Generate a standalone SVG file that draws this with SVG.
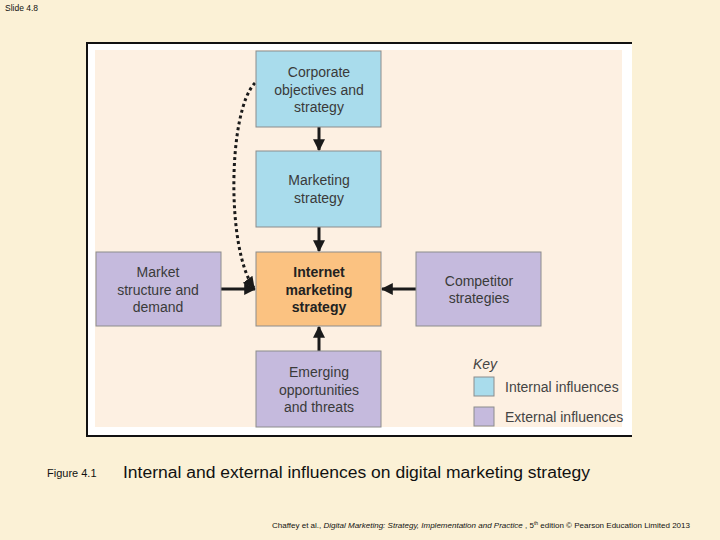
<svg xmlns="http://www.w3.org/2000/svg" width="720" height="540" viewBox="0 0 720 540">
<defs>
<style>
.box{stroke:#8c8c8c;stroke-width:1}
.int{fill:#a9dcec}
.ext{fill:#c5badd}
.core{fill:#fbc281}
.t{font-family:"Liberation Sans",Arial,sans-serif;font-size:14px;fill:#3a3a3a;text-anchor:middle}
.b{font-weight:bold;fill:#222}
.k{font-family:"Liberation Sans",Arial,sans-serif;font-size:14px;fill:#444}
.conn{stroke:#1a1a1a;stroke-width:3;fill:none}
</style>
<marker id="ah" viewBox="0 0 10 10" refX="9" refY="5" markerWidth="4" markerHeight="4" orient="auto" markerUnits="strokeWidth">
<path d="M0,0 L10,5 L0,10 Z" fill="#1a1a1a"/>
</marker>
</defs>
<rect width="720" height="540" fill="#fbf1d6"/>
<text x="5" y="11" font-family="Liberation Sans,Arial,sans-serif" font-size="8.5" fill="#111">Slide 4.8</text>
<rect x="87" y="43" width="545" height="393" fill="#ffffff"/>
<rect x="95" y="50" width="527" height="377" fill="#fdf0e2"/>
<path d="M632,43 H87 V436 H632" fill="none" stroke="#111" stroke-width="2"/>

<g id="connectors">
<line class="conn" x1="319" y1="127" x2="319" y2="150" marker-end="url(#ah)"/>
<line class="conn" x1="319" y1="227" x2="319" y2="251" marker-end="url(#ah)"/>
<line class="conn" x1="221" y1="289" x2="255" y2="289" marker-end="url(#ah)"/>
<line class="conn" x1="416" y1="289" x2="382" y2="289" marker-end="url(#ah)"/>
<line class="conn" x1="319" y1="351" x2="319" y2="327" marker-end="url(#ah)"/>
<path class="conn" d="M255,83 C228,110 226,250 254,288" stroke-dasharray="3 3" marker-end="url(#ah)"/>
</g>

<g id="corporate">
<rect class="box int" x="256" y="51" width="125" height="76"/>
<text class="t" x="319" y="77">Corporate</text>
<text class="t" x="319" y="95">objectives and</text>
<text class="t" x="319" y="112">strategy</text>
</g>
<g id="marketing">
<rect class="box int" x="256" y="151" width="125" height="76"/>
<text class="t" x="319" y="185">Marketing</text>
<text class="t" x="319" y="203">strategy</text>
</g>
<g id="internet">
<rect class="box core" x="256" y="252" width="125" height="74"/>
<text class="t b" x="319" y="277">Internet</text>
<text class="t b" x="319" y="295">marketing</text>
<text class="t b" x="319" y="312">strategy</text>
</g>
<g id="market">
<rect class="box ext" x="96" y="252" width="125" height="74"/>
<text class="t" x="158" y="277">Market</text>
<text class="t" x="158" y="295">structure and</text>
<text class="t" x="158" y="312">demand</text>
</g>
<g id="competitor">
<rect class="box ext" x="416" y="252" width="125" height="74"/>
<text class="t" x="479" y="286">Competitor</text>
<text class="t" x="479" y="303">strategies</text>
</g>
<g id="emerging">
<rect class="box ext" x="256" y="351" width="125" height="76"/>
<text class="t" x="319" y="377">Emerging</text>
<text class="t" x="319" y="395">opportunities</text>
<text class="t" x="319" y="412">and threats</text>
</g>
<g id="key">
<text class="k" x="473" y="369" font-style="italic">Key</text>
<rect class="box int" x="474" y="377" width="20" height="19"/>
<text class="k" x="505" y="392">Internal influences</text>
<rect class="box ext" x="474" y="407" width="20" height="19"/>
<text class="k" x="505" y="422">External influences</text>
</g>

<text x="47" y="477" font-family="Liberation Sans,Arial,sans-serif" font-size="11" fill="#111">Figure 4.1</text>
<text x="123" y="478" font-family="Liberation Sans,Arial,sans-serif" font-size="17.3" fill="#111" textLength="467" lengthAdjust="spacingAndGlyphs">Internal and external influences on digital marketing strategy</text>
<text x="272" y="528" font-family="Liberation Sans,Arial,sans-serif" font-size="8" fill="#111" textLength="418" lengthAdjust="spacingAndGlyphs">Chaffey et al., <tspan font-style="italic">Digital Marketing: Strategy, Implementation and Practice</tspan> , 5<tspan font-size="5" dy="-3">th</tspan><tspan dy="3"> edition © Pearson Education Limited 2013</tspan></text>
</svg>
